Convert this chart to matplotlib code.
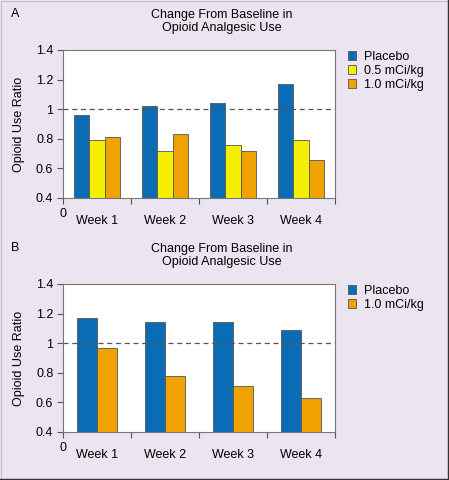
import matplotlib.pyplot as plt
import numpy as np
from matplotlib.patches import Patch

plt.rcParams['font.family'] = ['Liberation Sans', 'DejaVu Sans']

weeks = ['Week 1', 'Week 2', 'Week 3', 'Week 4']

# panel A
a_placebo = [0.96, 1.02, 1.04, 1.17]
a_low = [0.79, 0.72, 0.76, 0.79]
a_high = [0.81, 0.83, 0.72, 0.66]

# panel B
b_placebo = [1.17, 1.14, 1.14, 1.09]
b_high = [0.97, 0.78, 0.71, 0.63]

blue = '#0a6cb4'
yellow = '#f6ee00'
orange = '#f0a300'
bg = '#ebe5f1'
fs = 9

fig = plt.figure(figsize=(4.49, 4.80), dpi=100, facecolor=bg)


def draw_panel(ax, series, colors, labels, width, letter, letter_px, top_px):
    x = np.arange(len(weeks))
    n = len(series)
    offsets = (np.arange(n) - (n - 1) / 2) * width
    for vals, off, c in zip(series, offsets, colors):
        ax.bar(x + off, np.array(vals) - 0.4, width, bottom=0.4, color=c,
               edgecolor='#555555', linewidth=0.6)
    ax.axhline(1.0, color='#555555', linestyle=(0, (4, 3)), linewidth=0.9)
    ax.set_xlim(-0.5, 3.5)
    ax.set_ylim(0.4, 1.4)
    ax.set_yticks([0.4, 0.6, 0.8, 1.0, 1.2, 1.4])
    ax.set_yticklabels(['0.4', '0.6', '0.8', '1', '1.2', '1.4'])
    ax.set_xticks([-0.5, 0.5, 1.5, 2.5, 3.5])
    ax.set_xticklabels([])
    ax.set_xticks(x, minor=True)
    ax.set_xticklabels(weeks, minor=True)
    ax.tick_params(axis='x', which='minor', length=0, pad=12, labelsize=fs)
    ax.tick_params(axis='x', which='major', length=4, color='#555555')
    ax.tick_params(axis='y', length=4, labelsize=fs, color='#555555', pad=3)
    for s in ax.spines.values():
        s.set_color('#777777')
        s.set_linewidth(0.8)
    ax.set_ylabel('Opioid Use Ratio', fontsize=fs, labelpad=8)
    ax.text(0.0, -0.07, '0', transform=ax.transAxes, fontsize=fs,
            ha='center', va='top')
    handles = [Patch(facecolor=c, edgecolor='#555555', linewidth=0.6) for c in colors]
    fig.legend(handles, labels, loc='upper left',
               bbox_to_anchor=(343 / 449, 1 - (top_px + 37) / 480),
               frameon=False, fontsize=fs, handlelength=0.65, handleheight=0.65,
               handletextpad=0.6, labelspacing=0.15, borderaxespad=0)
    fig.text(11 / 449, 1 - letter_px / 480, letter, fontsize=fs, va='center')
    fig.text(222 / 449, 1 - top_px / 480, 'Change From Baseline in\nOpioid Analgesic Use',
             fontsize=fs, ha='center', va='top', linespacing=1.1)


ax_a = fig.add_axes([63 / 449, 1 - 198 / 480, 272 / 449, 148 / 480])
draw_panel(ax_a, [a_placebo, a_low, a_high], [blue, yellow, orange],
           ['Placebo', '0.5 mCi/kg', '1.0 mCi/kg'], 0.225, 'A', 14, 9)

ax_b = fig.add_axes([63 / 449, 1 - 432 / 480, 272 / 449, 148 / 480])
draw_panel(ax_b, [b_placebo, b_high], [blue, orange],
           ['Placebo', '1.0 mCi/kg'], 0.29, 'B', 248, 243)

# thin frame round the figure, darker on the right and bottom
fig.patches.append(plt.Rectangle((0.002, 0.002), 0.996, 0.996, transform=fig.transFigure,
                                 fill=False, edgecolor='#c4bccc', linewidth=0.8))
fig.add_artist(plt.Line2D([0.998, 0.998], [0, 1], transform=fig.transFigure,
                          color='#333333', linewidth=1.0))
fig.add_artist(plt.Line2D([0, 1], [0.002, 0.002], transform=fig.transFigure,
                          color='#333333', linewidth=1.0))

fig.savefig('out.png', dpi=100, facecolor=bg)
